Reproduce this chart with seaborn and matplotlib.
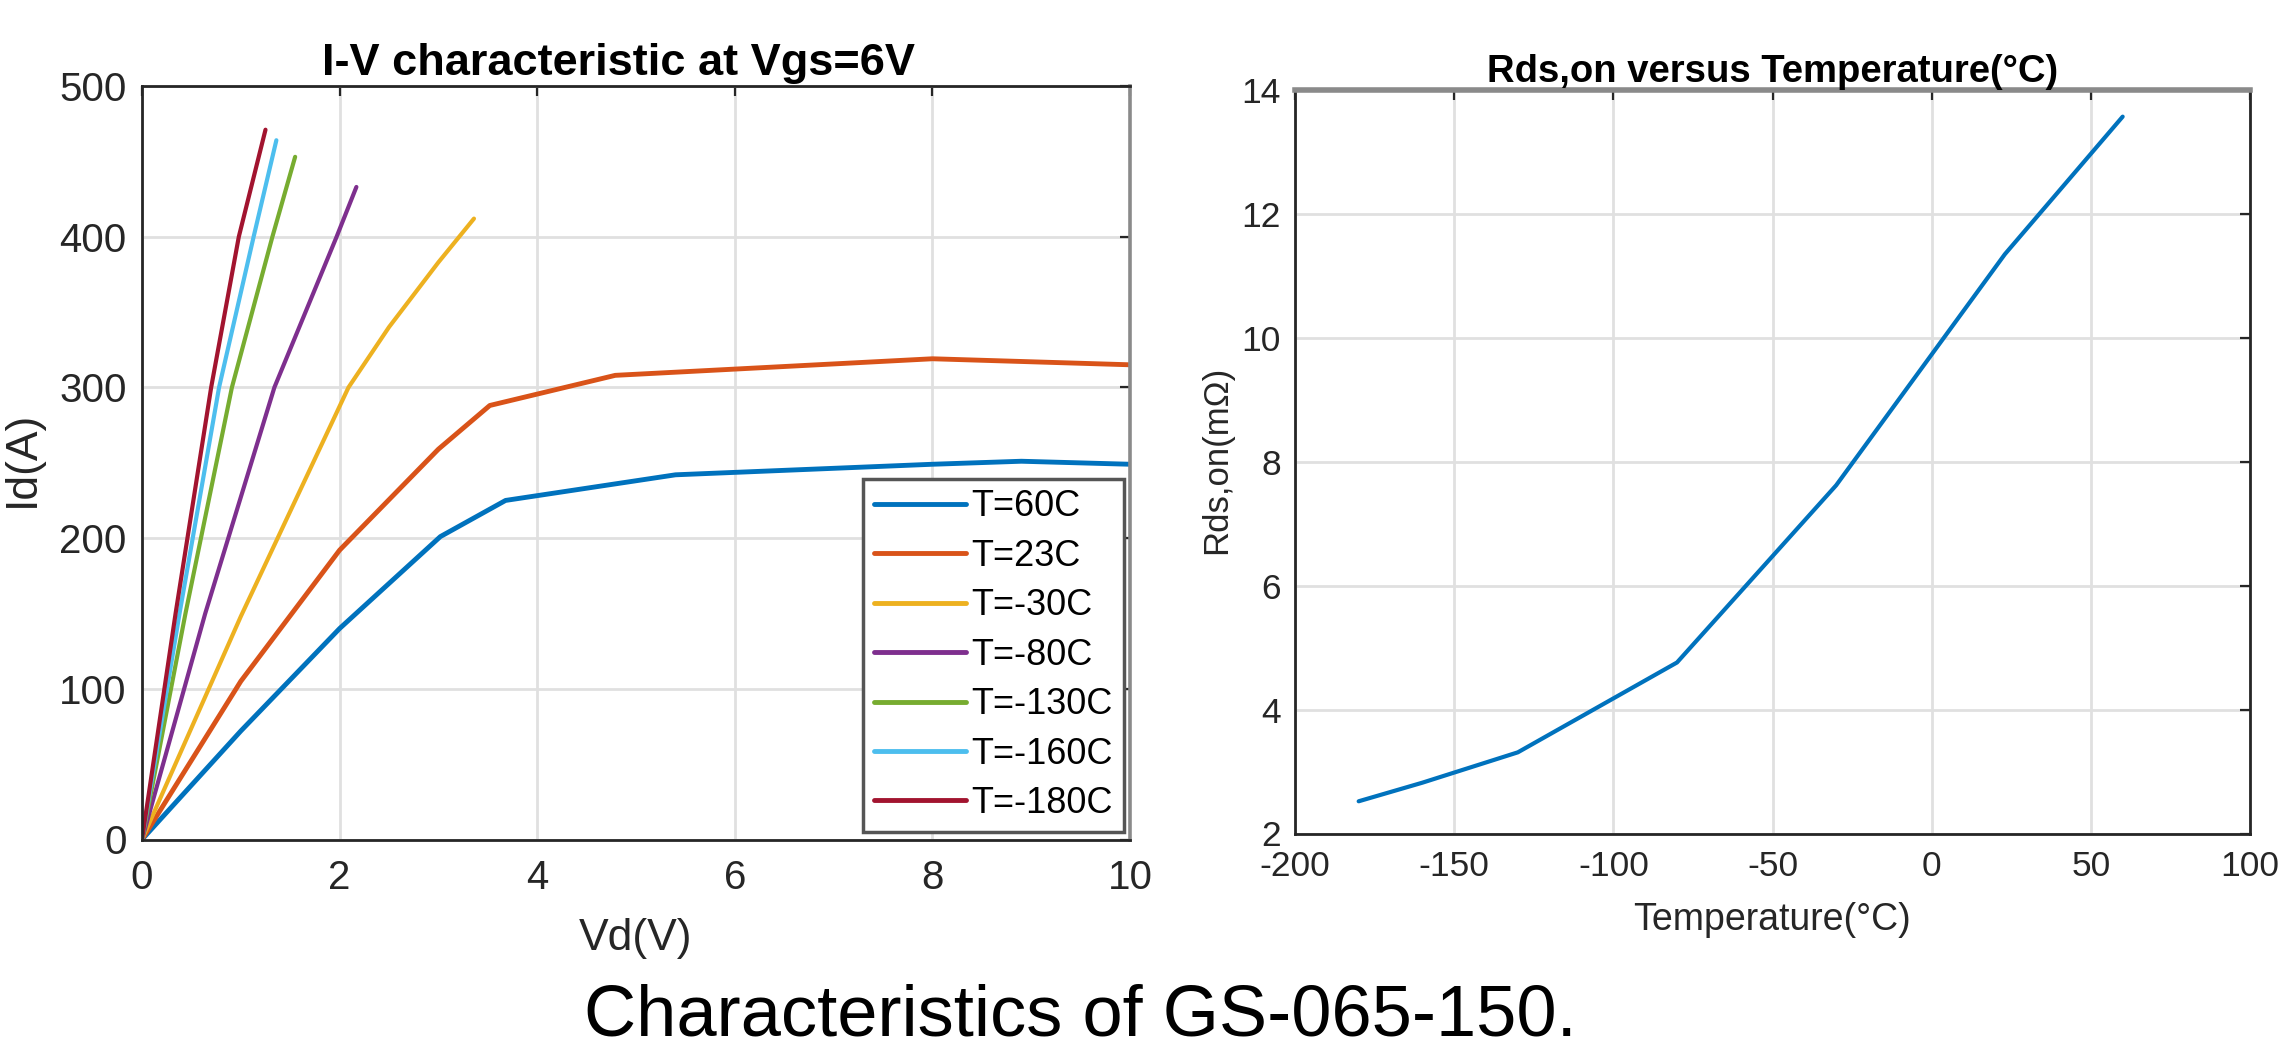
import numpy as np
import pandas as pd
import matplotlib
matplotlib.use("Agg")
import matplotlib.pyplot as plt
import seaborn as sns

# ---------------- data ----------------
series_labels = ["T=60C", "T=23C", "T=-30C", "T=-80C", "T=-130C", "T=-160C", "T=-180C"]
series_colors = ["#0072BD", "#D95319", "#EDB120", "#7E2F8E", "#77AC30", "#4DBEEE", "#A2142F"]

vd_60 = [0, 1.0, 2.0, 3.02, 3.68, 5.4, 8.0, 8.9, 10.0]
id_60 = [0, 72, 140, 201, 225, 242, 249, 251, 249]

vd_23 = [0, 1.0, 2.0, 3.0, 3.52, 4.79, 8.0, 10.0]
id_23 = [0, 105, 192, 259, 288, 308, 319, 315]

vd_m30 = [0, 1.0, 2.09, 2.5, 3.0, 3.36]
id_m30 = [0, 148, 300, 340, 383, 412]

vd_m80 = [0, 0.64, 1.34, 1.97, 2.17]
id_m80 = [0, 150, 300, 400, 433]

vd_m130 = [0, 0.44, 0.91, 1.32, 1.55]
id_m130 = [0, 150, 300, 400, 453]

vd_m160 = [0, 0.38, 0.78, 1.13, 1.36]
id_m160 = [0, 150, 300, 400, 464]

vd_m180 = [0, 0.34, 0.70, 0.98, 1.25]
id_m180 = [0, 150, 300, 400, 471]

temp_c = [-180, -160, -130, -80, -30, 23, 60]
rds_on = [2.52, 2.82, 3.31, 4.76, 7.62, 11.35, 13.57]

iv_x_ticks = [0, 2, 4, 6, 8, 10]
iv_y_ticks = [0, 100, 200, 300, 400, 500]
rt_x_ticks = [-200, -150, -100, -50, 0, 50, 100]
rt_y_ticks = [2, 4, 6, 8, 10, 12, 14]

# ---------------- build tables ----------------
vd_all = [vd_60, vd_23, vd_m30, vd_m80, vd_m130, vd_m160, vd_m180]
id_all = [id_60, id_23, id_m30, id_m80, id_m130, id_m160, id_m180]
frames = []
for lab, v, i in zip(series_labels, vd_all, id_all):
    frames.append(pd.DataFrame({"Vd": v, "Id": i, "T": lab}))
df_iv = pd.concat(frames, ignore_index=True)
df_rt = pd.DataFrame({"Temp": temp_c, "Rds": rds_on})

# ---------------- style ----------------
sns.set_theme(style="white")
plt.rcParams["font.family"] = ["Liberation Sans", "DejaVu Sans"]
plt.rcParams["axes.unicode_minus"] = False
AXC = "#262626"

W, H = 2280, 1052
fig = plt.figure(figsize=(W / 100, H / 100), dpi=100)
ax1 = fig.add_axes([142 / W, 1 - 839.5 / H, (1130 - 142) / W, (839.5 - 86) / H])
ax2 = fig.add_axes([1295 / W, 1 - 833.5 / H, (2250 - 1295) / W, (833.5 - 90) / H])

# ---------------- left: I-V ----------------
sns.lineplot(data=df_iv, x="Vd", y="Id", hue="T", hue_order=series_labels,
             palette=dict(zip(series_labels, series_colors)), sort=False,
             estimator=None, linewidth=3.0, ax=ax1, legend=False)
for k, ln in enumerate(ax1.lines):
    if k < 2:
        ln.set_linewidth(3.5)

ax1.set_xlim(0, 10)
ax1.set_ylim(0, 500)
ax1.set_xticks(iv_x_ticks)
ax1.set_yticks(iv_y_ticks)
ax1.set_title("I-V characteristic at Vgs=6V", fontsize=32.5, fontweight="bold",
              color="black", pad=8, x=0.482, y=1.0)
ax1.set_xlabel("Vd(V)", fontsize=32, color=AXC)
ax1.set_ylabel("Id(A)", fontsize=32, color=AXC)
ax1.xaxis.set_label_coords(0.5, -0.104)
ax1.yaxis.set_label_coords(-0.10, 0.505)
ax1.tick_params(axis="x", labelsize=29, pad=14)
ax1.tick_params(axis="y", labelsize=29, pad=11)

handles = [plt.Line2D([], [], color=c, lw=3.5) for c in series_colors]
leg = ax1.legend(handles, series_labels, loc="lower right", bbox_to_anchor=(0.994, 0.01),
                 fontsize=26, handlelength=2.55, handletextpad=0.15, labelspacing=0.4,
                 borderpad=0.3, borderaxespad=0, frameon=True, fancybox=False,
                 edgecolor="#555555", framealpha=1)
leg.get_frame().set_linewidth(2.5)
for t in leg.get_texts():
    t.set_color("black")

# ---------------- right: Rds vs T ----------------
sns.lineplot(data=df_rt, x="Temp", y="Rds", color="#0072BD", linewidth=3.0,
             sort=False, estimator=None, ax=ax2)
ax2.set_xlim(-200, 100)
ax2.set_ylim(2, 14)
ax2.set_xticks(rt_x_ticks)
ax2.set_yticks(rt_y_ticks)
ax2.set_title("Rds,on versus Temperature(°C)", fontsize=27.5, fontweight="bold",
              color="black", pad=6, y=1.0)
ax2.set_xlabel("Temperature(°C)", fontsize=27, color=AXC)
ax2.set_ylabel("Rds,on(mΩ)", fontsize=25, color=AXC)
ax2.xaxis.set_label_coords(0.5, -0.092)
ax2.yaxis.set_label_coords(-0.065, 0.503)
ax2.tick_params(axis="x", labelsize=25.5, pad=12)
ax2.tick_params(axis="y", labelsize=25.5, pad=10)

# ---------------- common axes styling ----------------
for ax in (ax1, ax2):
    ax.grid(True, color="#e0e0e0", linewidth=2)
    ax.set_axisbelow(True)
    ax.tick_params(direction="in", length=7, width=1.6, top=True, right=True,
                   colors=AXC)
    for side in ("left", "bottom", "top", "right"):
        ax.spines[side].set_color(AXC)
        ax.spines[side].set_linewidth(2.0)
        ax.spines[side].set_visible(True)
ax1.spines["right"].set_color("#8a8a8a")
ax1.spines["right"].set_linewidth(2.6)
ax2.spines["top"].set_color("#8a8a8a")
ax2.spines["top"].set_linewidth(4)

fig.text(1080 / W, 1 - 1036 / H, "Characteristics of GS-065-150.", ha="center",
         va="baseline", fontsize=52, color="black")

fig.savefig("out.png", dpi=100, facecolor="white")
